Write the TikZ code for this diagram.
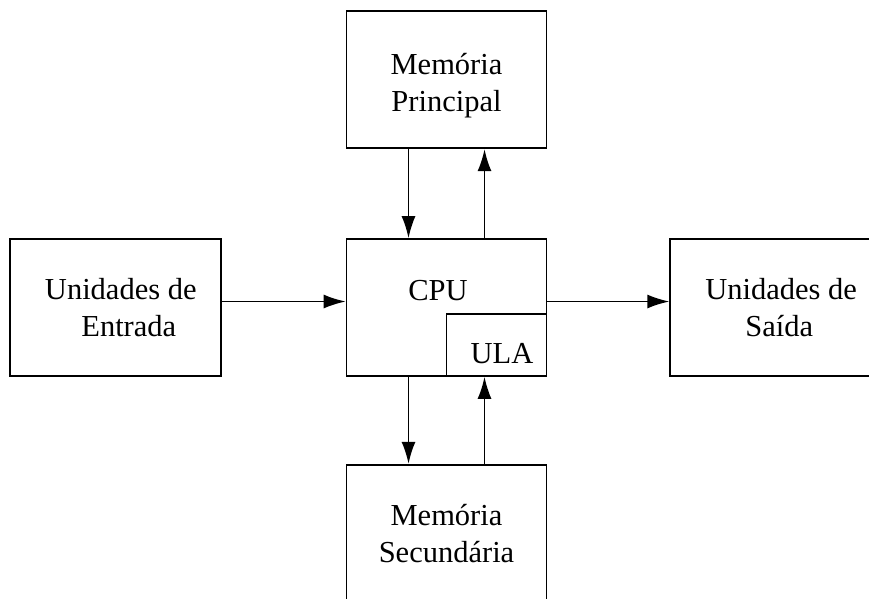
\documentclass[tikz,border=0pt]{standalone}
\usepackage{fontspec}
\setmainfont{Liberation Serif}
\usetikzlibrary{positioning,arrows.meta}

\begin{document}
\begin{tikzpicture}[x=1pt,y=-1pt,
    bloco/.style={draw,line width=1.7pt,minimum width=200pt,minimum height=137pt,
      align=center,inner sep=0pt,font=\fontsize{30.5}{37}\selectfont},
    rotulo/.style={inner sep=0pt,align=center,font=\fontsize{30.5}{37}\selectfont},
    seta/.style={-{Latex[length=22pt,width=14pt]},line width=1.7pt}]
  \useasboundingbox (0,0) rectangle (869,598);
  \clip (0,0) rectangle (869,598);

  \node[bloco] (cpu) at (446.5,307.5) {};
  \node[bloco,minimum width=100pt,minimum height=62pt,anchor=south east] (ula) at (cpu.south east) {};
  \node[rotulo,anchor=base] (cputxt) at (438,300) {CPU};
  \node[rotulo,anchor=base] (ulatxt) at (502,363) {ULA};

  \node[bloco,above=89pt of cpu] (memp) {};
  \node[rotulo] (memptxt) at ([yshift=-6pt]memp.center) {Memória\\Principal};
  \node[bloco,below=87pt of cpu] (mems) {Memória\\Secundária};
  \node[bloco,minimum width=211pt,left=124pt of cpu] (entrada) {\hspace{11pt}Unidades de\\\hspace{27pt}Entrada};
  \node[bloco,minimum width=202pt,right=122pt of cpu] (saida) {\hspace{20pt}Unidades de\\\hspace{16pt}Saída};

  \draw[seta] ([yshift=6pt]entrada.east) -- ([yshift=6pt]entrada.east -| cpu.west);
  \draw[seta] ([yshift=6pt]cpu.east) -- ([yshift=6pt]cpu.east -| saida.west);
  \draw[seta] ([xshift=-38pt]memp.south) -- ([xshift=-38pt]cpu.north);
  \draw[seta] ([xshift=38pt]cpu.north) -- ([xshift=38pt]memp.south);
  \draw[seta] ([xshift=-38pt]cpu.south) -- ([xshift=-38pt]mems.north);
  \draw[seta] ([xshift=38pt]mems.north) -- ([xshift=38pt]cpu.south);
\end{tikzpicture}
\end{document}
